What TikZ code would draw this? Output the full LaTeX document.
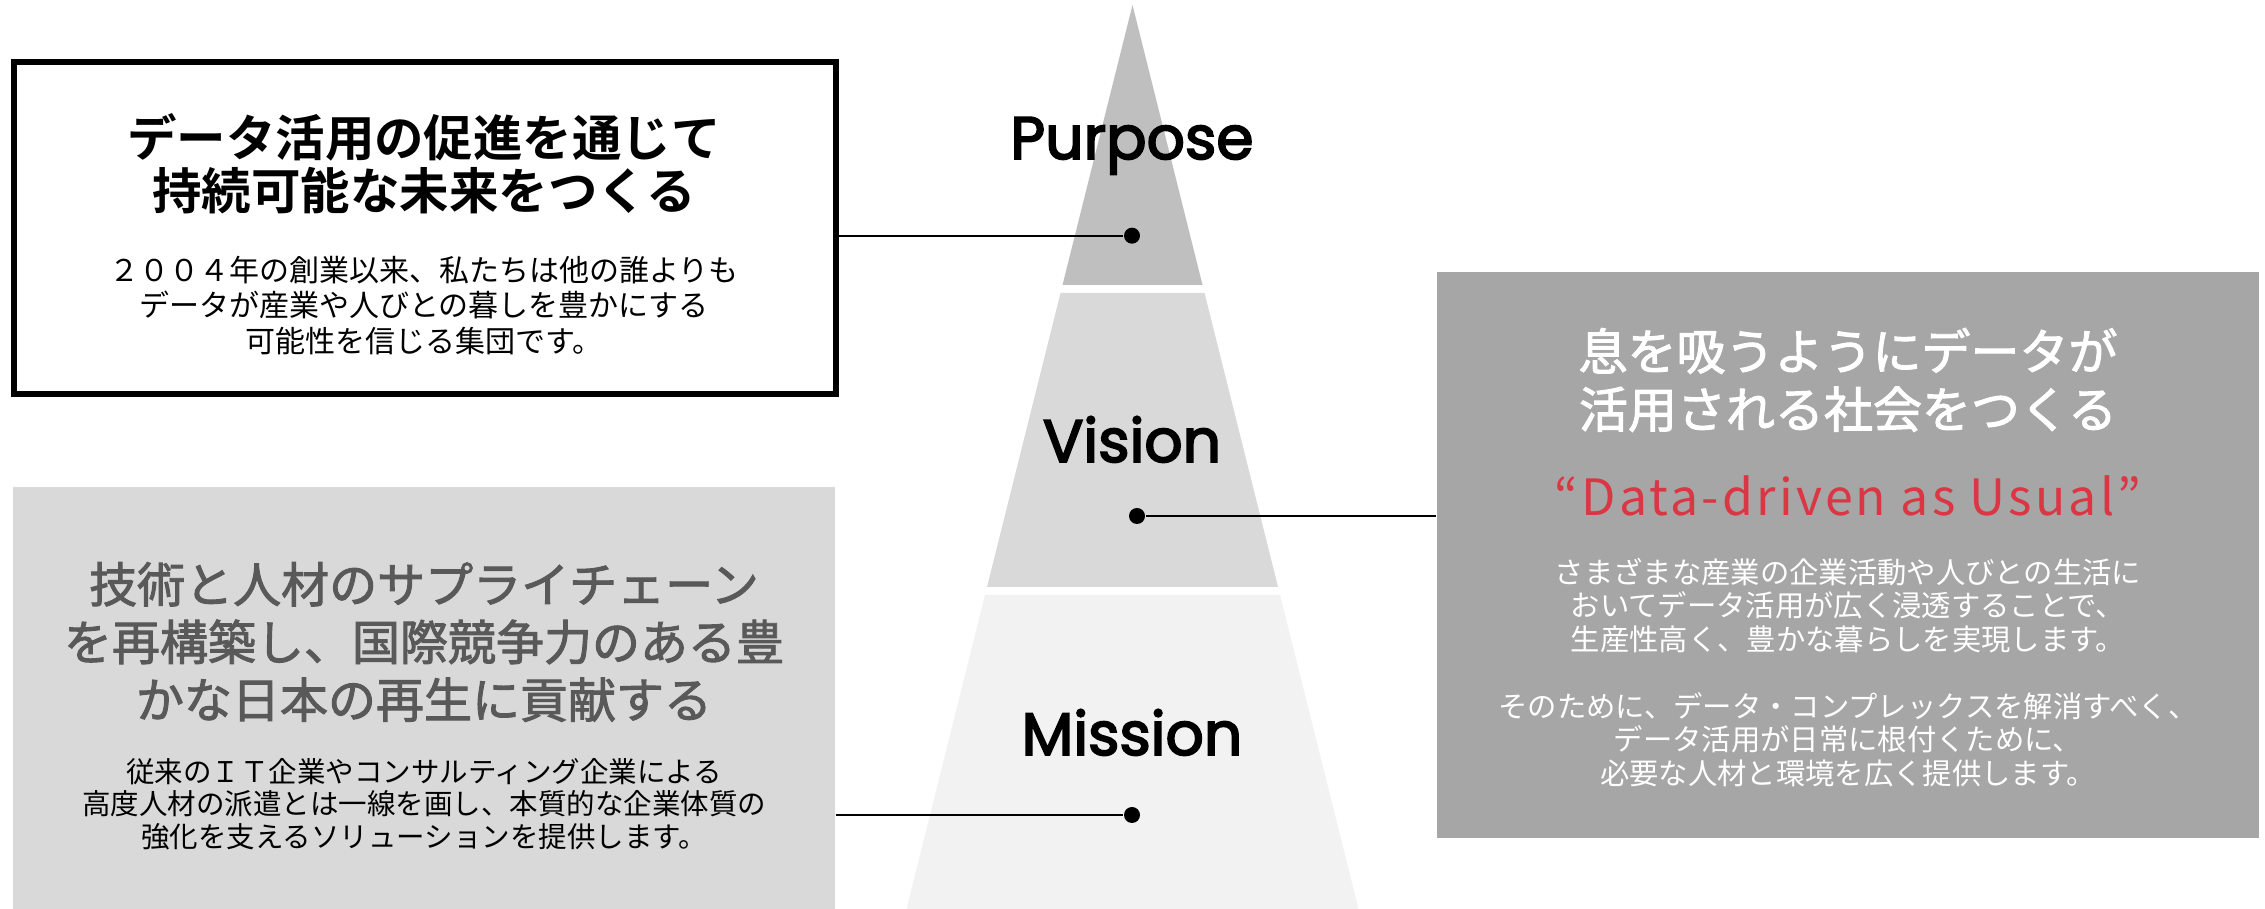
\documentclass[tikz,border=0pt]{standalone}
\usepackage{fontspec}
\newfontfamily\jp{Noto Sans CJK JP}[BoldFont={Noto Sans CJK JP Bold}]
\newfontfamily\jpm{Noto Sans CJK JP}[FakeBold=2]
\newfontfamily\pop{Poppins}[FakeBold=3]
\definecolor{purpc}{HTML}{BFBFBF}
\definecolor{visc}{HTML}{D9D9D9}
\definecolor{misc}{HTML}{F2F2F2}
\definecolor{graybox}{HTML}{D9D9D9}
\definecolor{darkbox}{HTML}{A6A6A6}
\definecolor{graytitle}{HTML}{595959}
\definecolor{datared}{RGB}{218,54,68}
\begin{document}
\begin{tikzpicture}[x=0.3pt,y=-0.3pt,
  pyrlabel/.style={font=\pop\fontsize{18}{20}\selectfont, text=black, inner sep=0, anchor=base},
  dotn/.style={circle, fill=black, inner sep=0, minimum size=4.8pt},
  conn/.style={draw=black, line width=0.5pt},
  panel/.style={inner sep=0, minimum width=246.6pt},
  txt/.style={align=center, inner sep=0}
]
\useasboundingbox (0,0) rectangle (2265,909);
\fill[white] (0,0) rectangle (2265,909);

% pyramid
\fill[purpc] (1132.5,5) -- (1202.5,285) -- (1062.5,285) -- cycle;
\fill[visc] (1060.5,293) -- (1204.5,293) -- (1278,587) -- (987,587) -- cycle;
\fill[misc] (985,595) -- (1280,595) -- (1358.5,909) -- (906.5,909) -- cycle;

\node[pyrlabel] (plab) at (1132,159) {Purpose};
\node[pyrlabel] (vlab) at (1132,462) {Vision};
\node[pyrlabel] (mlab) at (1132,755) {Mission};

% panels
\node[panel, draw=black, line width=1.8pt, fill=white, minimum height=99.75pt] (pbox) at (424.5,228.25) {};
\node[panel, fill=graybox, minimum height=126.6pt] (mbox) at (424,698) {};
\node[panel, fill=darkbox, minimum height=169.8pt] (vbox) at (1848,555) {};

% purpose texts
\node[txt, font=\jp\bfseries\fontsize{14.85}{16.05}\selectfont] (ptitle) at (424,164)
  {データ活用の促進を通じて\\持続可能な未来をつくる};
\node[txt, font=\jp\fontsize{9}{10.65}\selectfont] (pbody) at (424,305.5)
  {２００４年の創業以来、私たちは他の誰よりも\\データが産業や人びとの暮しを豊かにする\\可能性を信じる集団です。};

% mission texts
\node[txt, text=graytitle, font=\jpm\fontsize{14.4}{17.3}\selectfont] (mtitle) at (424,642)
  {技術と人材のサプライチェーン\\を再構築し、国際競争力のある豊\\かな日本の再生に貢献する};
\node[txt, font=\jp\fontsize{8.55}{9.75}\selectfont] (mbody) at (424,804)
  {従来のＩＴ企業やコンサルティング企業による\\高度人材の派遣とは一線を画し、本質的な企業体質の\\強化を支えるソリューションを提供します。};

% vision texts
\node[txt, text=white, font=\jpm\fontsize{14.7}{17.4}\selectfont] (vtitle) at (1848,380)
  {息を吸うようにデータが\\活用される社会をつくる};
\node[txt, text=datared, font=\jp\fontsize{15}{18}\selectfont\addfontfeature{LetterSpace=6.3}] (vdata) at (1848,496)
  {“Data-driven as Usual”};
\node[txt, text=white, font=\jp\fontsize{8.8}{10.05}\selectfont] (vbody) at (1848,672.5)
  {さまざまな産業の企業活動や人びとの生活に\\おいてデータ活用が広く浸透することで、\\生産性高く、豊かな暮らしを実現します。\\[10.05pt]そのために、データ・コンプレックスを解消すべく、\\データ活用が日常に根付くために、\\必要な人材と環境を広く提供します。};

% dots and connectors
\node[dotn] (pdot) at (1132,235.7) {};
\node[dotn] (vdot) at (1137,516) {};
\node[dotn] (mdot) at (1132,815) {};
\draw[conn] (pbox.east |- pdot) -- (pdot);
\draw[conn] (vdot) -- (vbox.west |- vdot);
\draw[conn] (mbox.east |- mdot) -- (mdot);
\end{tikzpicture}
\end{document}
